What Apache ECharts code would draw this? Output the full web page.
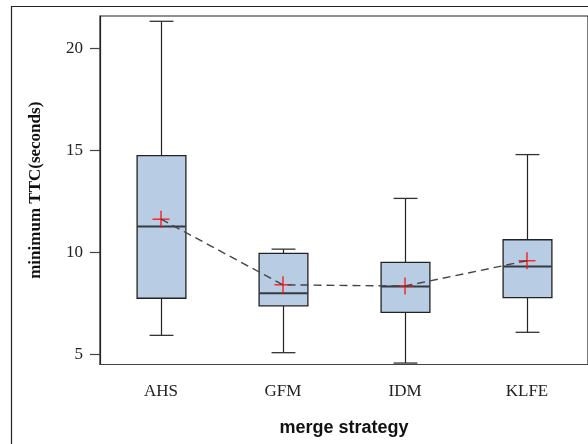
<!DOCTYPE html>
<html>
<head>
<meta charset="utf-8">
<script src="https://cdn.jsdelivr.net/npm/echarts@6/dist/echarts.min.js"></script>
<style>
  html, body { margin: 0; padding: 0; background: #fff; }
  #chart { width: 588px; height: 444px; }
</style>
</head>
<body>
<div id="chart"></div>
<script>
// Minimum time-to-collision per merge strategy
const categories = ['AHS', 'GFM', 'IDM', 'KLFE'];
// five-number summaries: [low whisker, Q1, median, Q3, high whisker]
const lowWhisker  = [5.93, 5.08, 4.57, 6.08];
const q1          = [7.75, 7.38, 7.06, 7.78];
const median      = [11.27, 8.00, 8.33, 9.31];
const q3          = [14.75, 9.95, 9.51, 10.62];
const highWhisker = [21.34, 10.16, 12.65, 14.80];
const means       = [11.63, 8.41, 8.35, 9.59];
const yTicks      = [5, 10, 15, 20];

const boxData = categories.map((c, i) =>
  [i, lowWhisker[i], q1[i], median[i], q3[i], highWhisker[i]]);
const meanData = categories.map((c, i) => [i, means[i]]);

const ink = '#222';
const serif = '"Liberation Serif", "Times New Roman", serif';
const sans = '"Liberation Sans", Arial, sans-serif';

function renderBox(params, api) {
  const x = api.value(0);
  const lo = api.coord([x, api.value(1)]);
  const b1 = api.coord([x, api.value(2)]);
  const md = api.coord([x, api.value(3)]);
  const b3 = api.coord([x, api.value(4)]);
  const hi = api.coord([x, api.value(5)]);
  const band = api.size([1, 0])[0];
  const hb = band * 0.2;
  const hc = band * 0.098;
  const cx = Math.round(lo[0]) + 0.5;
  const line = (x1, y1, x2, y2, color, w) => ({
    type: 'line',
    shape: { x1, y1, x2, y2 },
    style: { stroke: color, lineWidth: w }
  });
  return {
    type: 'group',
    children: [
      line(cx, hi[1], cx, b3[1], ink, 1.2),
      line(cx, b1[1], cx, lo[1], ink, 1.2),
      line(cx - hc, hi[1], cx + hc, hi[1], '#333', 1.3),
      line(cx - hc, lo[1], cx + hc, lo[1], '#333', 1.3),
      {
        type: 'rect',
        shape: { x: cx - hb, y: b3[1], width: hb * 2, height: b1[1] - b3[1] },
        style: { fill: '#b8cce4', stroke: ink, lineWidth: 1.3 }
      },
      line(cx - hb, md[1], cx + hb, md[1], '#353a40', 2)
    ]
  };
}

function renderMean(params, api) {
  const p = api.coord([api.value(0), api.value(1)]);
  const r = 8.5;
  return {
    type: 'group',
    children: [
      { type: 'line', shape: { x1: p[0] - r, y1: p[1], x2: p[0] + r, y2: p[1] },
        style: { stroke: '#ff1010', lineWidth: 1.3 } },
      { type: 'line', shape: { x1: p[0], y1: p[1] - r, x2: p[0], y2: p[1] + r },
        style: { stroke: '#ff1010', lineWidth: 1.3 } }
    ]
  };
}

const chart = echarts.init(document.getElementById('chart'), null, { renderer: 'canvas' });
chart.setOption({
  animation: false,
  backgroundColor: '#fff',
  graphic: [{
    type: 'rect',
    shape: { x: 11.5, y: 6.5, width: 640, height: 480 },
    style: { fill: 'none', stroke: ink, lineWidth: 1.2 },
    silent: true
  }],
  grid: {
    left: 100, top: 16, width: 490, height: 348.5,
    show: true, borderColor: ink, borderWidth: 1.2, backgroundColor: 'transparent'
  },
  xAxis: {
    type: 'category',
    data: categories,
    name: 'merge strategy',
    nameLocation: 'middle',
    nameGap: 55,
    nameTextStyle: { fontFamily: sans, fontWeight: 'bold', fontSize: 18, color: '#111' },
    axisLine: { lineStyle: { color: '#444', width: 1.2 } },
    axisTick: { alignWithLabel: true, length: 8, lineStyle: { color: '#444', width: 1.2 } },
    axisLabel: { fontFamily: serif, fontSize: 17, color: '#222', margin: 19 },
    splitLine: { show: false }
  },
  yAxis: {
    type: 'value',
    min: 4.5,
    max: 21.6,
    name: 'minimum TTC(seconds)',
    nameLocation: 'middle',
    nameGap: 56,
    nameTextStyle: { fontFamily: serif, fontWeight: 'bold', fontSize: 17, color: '#111' },
    axisLine: { show: true, lineStyle: { color: ink, width: 1.2 } },
    axisTick: { show: true, length: 10, customValues: yTicks, lineStyle: { color: '#444', width: 1.2 } },
    axisLabel: { fontFamily: serif, fontSize: 17, color: '#222', margin: 17, customValues: yTicks },
    splitLine: { show: false }
  },
  series: [
    {
      type: 'custom',
      renderItem: renderBox,
      data: boxData,
      encode: { x: 0, y: [1, 2, 3, 4, 5] },
      clip: false,
      z: 2
    },
    {
      type: 'custom',
      renderItem: renderMean,
      data: meanData,
      encode: { x: 0, y: 1 },
      z: 3
    },
    {
      type: 'line',
      data: means,
      symbol: 'none',
      lineStyle: { color: '#444', width: 1.4, type: [8, 5] },
      z: 4
    }
  ]
});
</script>
</body>
</html>
